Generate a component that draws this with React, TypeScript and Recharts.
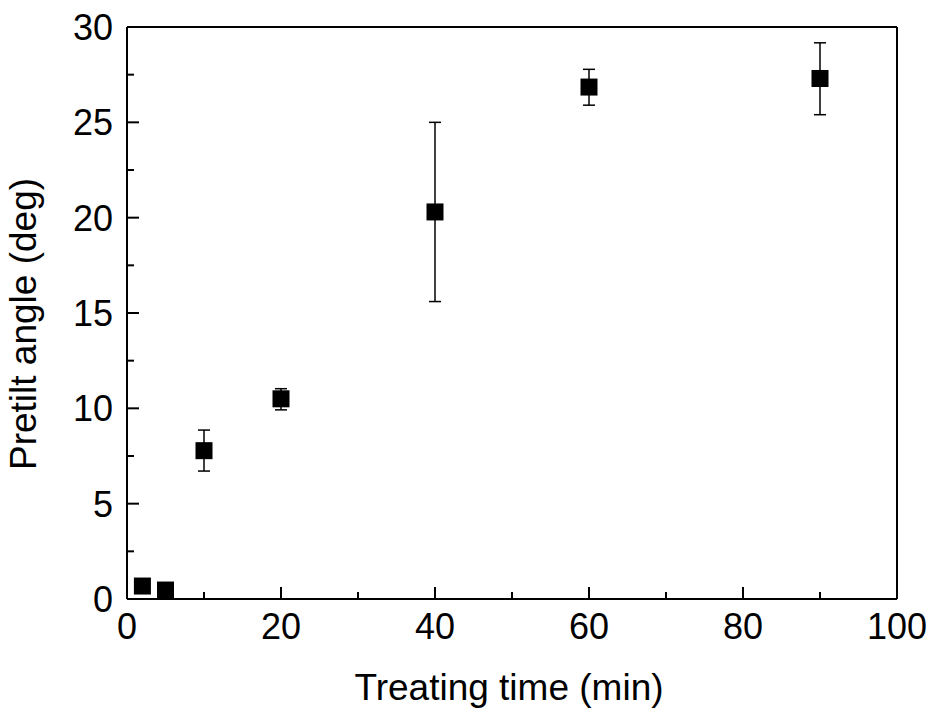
import { ScatterChart, Scatter, XAxis, YAxis, ErrorBar, ReferenceLine, Label } from "recharts";

const times = [2, 5, 10, 20, 40, 60, 90];
const angles = [0.68, 0.47, 7.78, 10.5, 20.3, 26.85, 27.3];
const errLow = [0, 0, 1.07, 0.58, 4.7, 0.95, 1.9];
const errHigh = [0, 0, 1.08, 0.53, 4.7, 0.93, 1.87];

const xTicks = [0, 10, 20, 30, 40, 50, 60, 70, 80, 90, 100];
const yTicks = [0, 2.5, 5, 7.5, 10, 12.5, 15, 17.5, 20, 22.5, 25, 27.5, 30];

const data = times.map((t, i) => ({
  time: t,
  angle: angles[i],
  err: [errLow[i], errHigh[i]],
}));

const FONT = '"Liberation Sans", Arial, sans-serif';

const XTick = ({ x, y, payload }: any) => {
  const major = payload.value % 20 === 0;
  return (
    <g>
      <line x1={x} x2={x} y1={y} y2={y - (major ? 12 : 7)} stroke="#000" strokeWidth={2} />
      {major && (
        <text x={x} y={y + 40} textAnchor="middle" fontSize={36} fontFamily={FONT} fill="#000">
          {payload.value}
        </text>
      )}
    </g>
  );
};

const YTick = ({ x, y, payload }: any) => {
  const major = payload.value % 5 === 0;
  return (
    <g>
      <line x1={x} x2={x + (major ? 12 : 7)} y1={y} y2={y} stroke="#000" strokeWidth={2} />
      {major && (
        <text x={x - 14} y={y + 13} textAnchor="end" fontSize={36} fontFamily={FONT} fill="#000">
          {payload.value}
        </text>
      )}
    </g>
  );
};

const Square = ({ cx, cy }: any) => (
  <rect x={cx - 8.5} y={cy - 8.5} width={17} height={17} fill="#000" />
);

const XTitle = ({ viewBox }: any) => (
  <text
    x={viewBox.x + viewBox.width / 2 - 3}
    y={viewBox.y + viewBox.height - 11}
    textAnchor="middle"
    fontSize={37}
    fontFamily={FONT}
    fill="#000"
  >
    Treating time (min)
  </text>
);

const YTitle = ({ viewBox }: any) => {
  const cx = viewBox.x + 36;
  const cy = viewBox.y + viewBox.height / 2 + 11;
  return (
    <text
      x={cx}
      y={cy}
      transform={`rotate(-90 ${cx} ${cy})`}
      textAnchor="middle"
      fontSize={37}
      fontFamily={FONT}
      fill="#000"
    >
      Pretilt angle (deg)
    </text>
  );
};

export default function App() {
  return (
    <div style={{ position: "absolute", left: 0, top: 0, background: "#fff" }}>
      <ScatterChart width={934} height={711} margin={{ top: 27, right: 37, left: 0, bottom: 0 }}>
        <XAxis
          type="number"
          dataKey="time"
          domain={[0, 100]}
          ticks={xTicks}
          interval={0}
          height={112}
          tickSize={0}
          tickMargin={0}
          tickLine={false}
          axisLine={{ stroke: "#000", strokeWidth: 2 }}
          tick={<XTick />}
        >
          <Label content={<XTitle />} />
        </XAxis>
        <YAxis
          type="number"
          dataKey="angle"
          domain={[0, 30]}
          ticks={yTicks}
          interval={0}
          width={127}
          tickSize={0}
          tickMargin={0}
          tickLine={false}
          axisLine={{ stroke: "#000", strokeWidth: 2 }}
          tick={<YTick />}
        >
          <Label content={<YTitle />} />
        </YAxis>
        <ReferenceLine y={30} stroke="#000" strokeWidth={2} />
        <ReferenceLine x={100} stroke="#000" strokeWidth={2} />
        <Scatter data={data} shape={<Square />} isAnimationActive={false}>
          <ErrorBar dataKey="err" direction="y" width={6} stroke="#000" strokeWidth={1.5} />
        </Scatter>
      </ScatterChart>
    </div>
  );
}
